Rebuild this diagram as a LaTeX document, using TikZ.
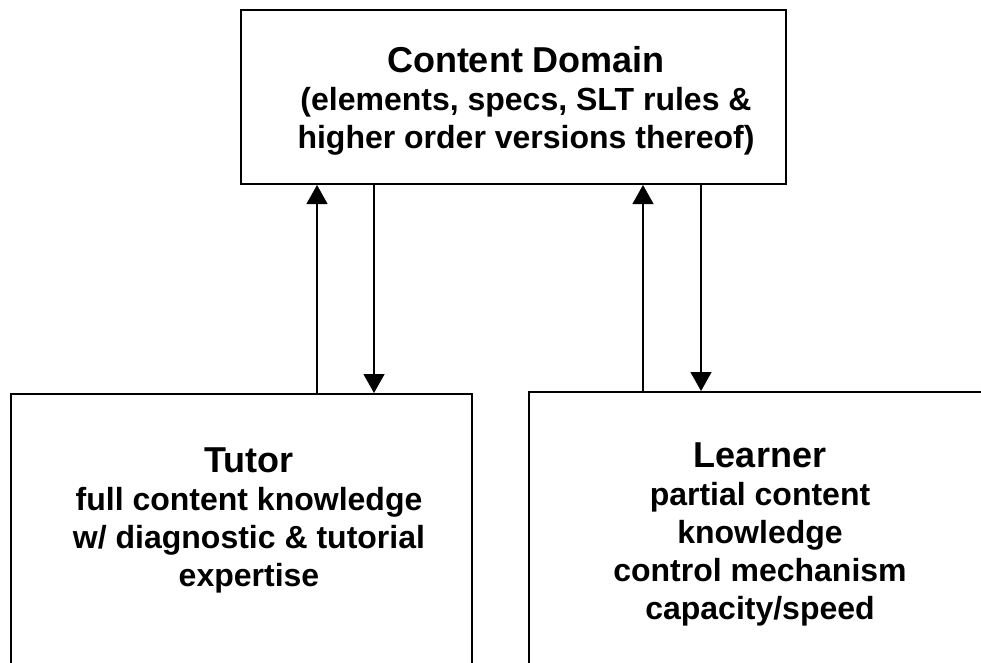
\documentclass[tikz,border=0pt]{standalone}
\usepackage{fontspec}
\setmainfont{Liberation Sans}
\usepackage{tikz}
\usetikzlibrary{arrows.meta,positioning}

\begin{document}
\begin{tikzpicture}[x=1pt,y=-1pt,
box/.style={draw,rectangle,line width=2pt,anchor=north west,inner sep=0pt},
txt/.style={align=center,inner sep=0pt,anchor=north,font=\fontsize{32}{38}\selectfont\bfseries},
arr/.style={line width=1.3pt,-{Triangle[width=21pt,length=19pt]}}]

\useasboundingbox (0,0) rectangle (981,662);
\clip (0,0) rectangle (981,662);

\node[box,minimum width=545pt,minimum height=174pt] (dom) at (240,9) {};
\node[box,minimum width=461.5pt,minimum height=300pt] (tut) at (9.5,393) {};
\node[box,minimum width=470pt,minimum height=300pt] (lrn) at (528,391) {};

\node[txt] (domtxt) at (526,46.5) {{\fontsize{36}{38}\selectfont Content Domain}\\(elements, specs, SLT rules \&\\higher order versions thereof)};
\node[txt] (tuttxt) at (249,448) {{\fontsize{36}{38}\selectfont Tutor}\\full content knowledge\\w/ diagnostic \& tutorial\\expertise};
\node[txt] (lrntxt) at (760,443) {{\fontsize{36}{38}\selectfont Learner}\\partial content\\knowledge\\control mechanism\\capacity/speed};

\draw[arr] ([xshift=307.5pt]tut.north west) -- ([xshift=77pt]dom.south west);
\draw[arr] ([xshift=134pt]dom.south west) -- ([xshift=364.5pt]tut.north west);
\draw[arr] ([xshift=115pt]lrn.north west) -- ([xshift=403pt]dom.south west);
\draw[arr] ([xshift=461pt]dom.south west) -- ([xshift=173pt]lrn.north west);
\end{tikzpicture}
\end{document}
